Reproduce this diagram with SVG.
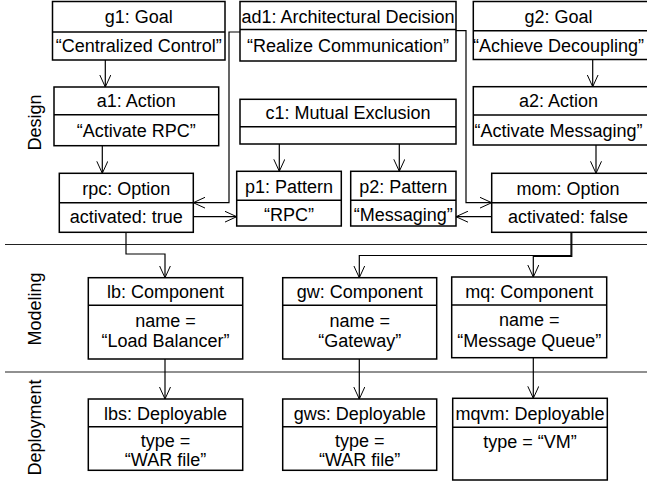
<svg xmlns="http://www.w3.org/2000/svg" width="647" height="484" viewBox="0 0 647 484">
<defs>
<style>
.box{fill:#fff;stroke:#000;stroke-width:1.5}
.div{stroke:#000;stroke-width:1.5}
text{font-family:"Liberation Sans",Arial,sans-serif;font-size:18px;fill:#000;text-anchor:middle}
.con{fill:none;stroke:#000;stroke-width:1.2;marker-end:url(#arr)}
.sep{stroke:#222;stroke-width:1.2}
</style>
<marker id="arr" markerUnits="userSpaceOnUse" markerWidth="13" markerHeight="12" refX="12" refY="6" orient="auto">
<path d="M0,0.5 L12,6 L0,11.5" fill="none" stroke="#000" stroke-width="1"/>
</marker>
</defs>
<rect width="647" height="484" fill="#fff"/>
<g id="lanes">
<line class="sep" x1="5" y1="244.5" x2="647" y2="244.5"/>
<line class="sep" x1="5" y1="372" x2="647" y2="372"/>
<text transform="translate(41,122.5) rotate(-90)">Design</text>
<text transform="translate(41,309) rotate(-90)">Modeling</text>
<text transform="translate(41,427.5) rotate(-90)">Deployment</text>
</g>
<g id="g1">
<rect class="box" x="52.5" y="1.5" width="172.5" height="58.5"/>
<line class="div" x1="52.5" y1="32" x2="225" y2="32"/>
<text x="138.75" y="23">g1: Goal</text>
<text x="138.75" y="52">“Centralized Control”</text>
</g>
<g id="ad1">
<rect class="box" x="240" y="1.5" width="216" height="59.5"/>
<line class="div" x1="240" y1="29.5" x2="456" y2="29.5"/>
<text x="348" y="22.5">ad1: Architectural Decision</text>
<text x="348" y="51.5">“Realize Communication”</text>
</g>
<g id="g2">
<rect class="box" x="473.3" y="1.5" width="180" height="58"/>
<line class="div" x1="473.3" y1="30.7" x2="653" y2="30.7"/>
<text x="558.5" y="23">g2: Goal</text>
<text x="558.5" y="52">“Achieve Decoupling”</text>
</g>
<g id="a1">
<rect class="box" x="54" y="87" width="164.7" height="58.7"/>
<line class="div" x1="54" y1="114.7" x2="218.7" y2="114.7"/>
<text x="136.3" y="107.3">a1: Action</text>
<text x="136.3" y="136.7">“Activate RPC”</text>
</g>
<g id="c1">
<rect class="box" x="240" y="99.3" width="216" height="44.7"/>
<line class="div" x1="240" y1="126.7" x2="456" y2="126.7"/>
<text x="348" y="119.3">c1: Mutual Exclusion</text>
</g>
<g id="a2">
<rect class="box" x="473.3" y="86.7" width="180" height="58.3"/>
<line class="div" x1="473.3" y1="115" x2="653" y2="115"/>
<text x="558.5" y="107.3">a2: Action</text>
<text x="558.5" y="136.7">“Activate Messaging”</text>
</g>
<g id="rpc">
<rect class="box" x="59.3" y="173.3" width="134" height="59"/>
<line class="div" x1="59.3" y1="202.7" x2="193.3" y2="202.7"/>
<text x="126.3" y="195">rpc: Option</text>
<text x="126.3" y="223.3">activated: true</text>
</g>
<g id="p1">
<rect class="box" x="236.7" y="171.3" width="104.6" height="54.7"/>
<line class="div" x1="236.7" y1="200.3" x2="341.3" y2="200.3"/>
<text x="289" y="193.3">p1: Pattern</text>
<text x="289" y="220.7">“RPC”</text>
</g>
<g id="p2">
<rect class="box" x="350.7" y="171.3" width="105.3" height="54.7"/>
<line class="div" x1="350.7" y1="200.3" x2="456" y2="200.3"/>
<text x="403.3" y="193.3">p2: Pattern</text>
<text x="403.3" y="220.7">“Messaging”</text>
</g>
<g id="mom">
<rect class="box" x="491.7" y="173.3" width="162" height="59"/>
<line class="div" x1="491.7" y1="202.7" x2="653" y2="202.7"/>
<text x="568" y="195">mom: Option</text>
<text x="568" y="223.3">activated: false</text>
</g>
<g id="lb">
<rect class="box" x="88.3" y="277.7" width="154.4" height="81.3"/>
<line class="div" x1="88.3" y1="305.3" x2="242.7" y2="305.3"/>
<text x="165.5" y="298.3">lb: Component</text>
<text x="165.5" y="326.7">name =</text>
<text x="165.5" y="347.3">“Load Balancer”</text>
</g>
<g id="gw">
<rect class="box" x="282.7" y="277.7" width="154" height="81.3"/>
<line class="div" x1="282.7" y1="305.3" x2="436.7" y2="305.3"/>
<text x="359.7" y="298.3">gw: Component</text>
<text x="359.7" y="326.7">name =</text>
<text x="359.7" y="347.3">“Gateway”</text>
</g>
<g id="mq">
<rect class="box" x="451.7" y="277" width="155" height="80.7"/>
<line class="div" x1="451.7" y1="305" x2="606.7" y2="305"/>
<text x="529.2" y="298">mq: Component</text>
<text x="529.2" y="326.3">name =</text>
<text x="529.2" y="347">“Message Queue”</text>
</g>
<g id="lbs">
<rect class="box" x="88.3" y="399" width="154.4" height="71.3"/>
<line class="div" x1="88.3" y1="426.7" x2="242.7" y2="426.7"/>
<text x="165.5" y="419.5">lbs: Deployable</text>
<text x="165.5" y="446.5">type =</text>
<text x="165.5" y="466">“WAR file”</text>
</g>
<g id="gws">
<rect class="box" x="282.7" y="399" width="154" height="71.3"/>
<line class="div" x1="282.7" y1="426.7" x2="436.7" y2="426.7"/>
<text x="359.7" y="419.5">gws: Deployable</text>
<text x="359.7" y="446.5">type =</text>
<text x="359.7" y="466">“WAR file”</text>
</g>
<g id="mqvm">
<rect class="box" x="452.7" y="398.3" width="154.6" height="81.7"/>
<line class="div" x1="452.7" y1="427.3" x2="607.3" y2="427.3"/>
<text x="530" y="419.5">mqvm: Deployable</text>
<text x="530" y="448.3">type = “VM”</text>
</g>
<g id="connectors">
<path class="con" d="M105.3,60 V87"/>
<path class="con" d="M102.3,145.7 V173.3"/>
<path class="con" d="M592.7,59.5 V86.7"/>
<path class="con" d="M596,145 V173.3"/>
<path class="con" d="M240,32 H229 V202.7 H193.3"/>
<path class="con" d="M456,30.7 H466 V202.7 H491.7"/>
<path class="con" d="M279.3,144 V171.3"/>
<path class="con" d="M399.3,144 V171.3"/>
<path class="con" d="M193.3,216.7 H236.7"/>
<path class="con" d="M491.7,216.7 H456"/>
<path class="con" d="M126,232.3 V254 H165 V277.7"/>
<path class="con" d="M571,232.3 V255.5 H359.3 V277.7"/>
<path class="con" d="M571.8,232.3 V256.3 H533.3 V277"/>
<path class="con" d="M165,359 V399"/>
<path class="con" d="M359.3,359 V399"/>
<path class="con" d="M533.3,357.7 V398.3"/>
</g>
</svg>
